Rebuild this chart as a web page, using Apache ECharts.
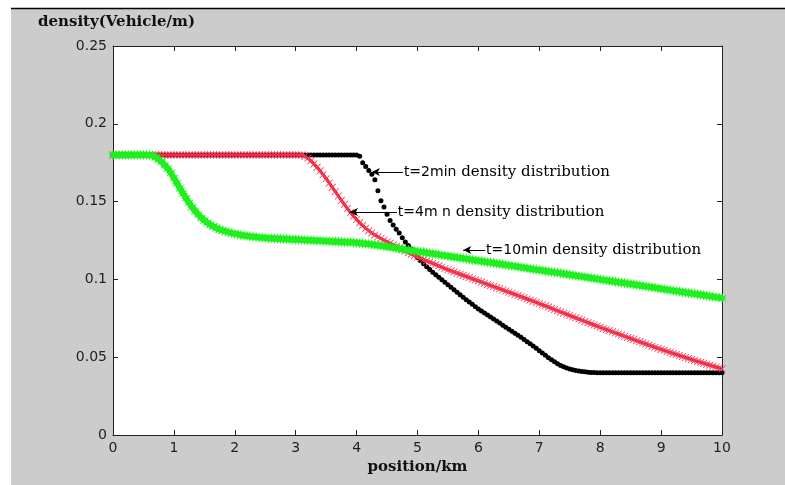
<!DOCTYPE html>
<html>
<head>
<meta charset="utf-8">
<script src="https://cdn.jsdelivr.net/npm/echarts@6/dist/echarts.min.js"></script>
<style>
html,body{margin:0;padding:0;background:#fff;}
#chart{position:absolute;left:0;top:0;width:785px;height:485px;}
</style>
</head>
<body>
<div id="chart"></div>
<script>
// sample positions (km)
var positions = [0,0.05,0.1,0.15,0.2,0.25,0.3,0.35,0.4,0.45,0.5,0.55,0.6,0.65,0.7,0.75,0.8,0.85,0.9,0.95,
1,1.05,1.1,1.15,1.2,1.25,1.3,1.35,1.4,1.45,1.5,1.55,1.6,1.65,1.7,1.75,1.8,1.85,1.9,1.95,
2,2.05,2.1,2.15,2.2,2.25,2.3,2.35,2.4,2.45,2.5,2.55,2.6,2.65,2.7,2.75,2.8,2.85,2.9,2.95,
3,3.05,3.1,3.15,3.2,3.25,3.3,3.35,3.4,3.45,3.5,3.55,3.6,3.65,3.7,3.75,3.8,3.85,3.9,3.95,
4,4.05,4.1,4.15,4.2,4.25,4.3,4.35,4.4,4.45,4.5,4.55,4.6,4.65,4.7,4.75,4.8,4.85,4.9,4.95,
5,5.05,5.1,5.15,5.2,5.25,5.3,5.35,5.4,5.45,5.5,5.55,5.6,5.65,5.7,5.75,5.8,5.85,5.9,5.95,
6,6.05,6.1,6.15,6.2,6.25,6.3,6.35,6.4,6.45,6.5,6.55,6.6,6.65,6.7,6.75,6.8,6.85,6.9,6.95,
7,7.05,7.1,7.15,7.2,7.25,7.3,7.35,7.4,7.45,7.5,7.55,7.6,7.65,7.7,7.75,7.8,7.85,7.9,7.95,
8,8.05,8.1,8.15,8.2,8.25,8.3,8.35,8.4,8.45,8.5,8.55,8.6,8.65,8.7,8.75,8.8,8.85,8.9,8.95,
9,9.05,9.1,9.15,9.2,9.25,9.3,9.35,9.4,9.45,9.5,9.55,9.6,9.65,9.7,9.75,9.8,9.85,9.9,9.95,10];

// t = 2 min
var density2min = [0.18,0.18,0.18,0.18,0.18,0.18,0.18,0.18,0.18,0.18,0.18,0.18,0.18,0.18,0.18,0.18,0.18,0.18,0.18,0.18,
0.18,0.18,0.18,0.18,0.18,0.18,0.18,0.18,0.18,0.18,0.18,0.18,0.18,0.18,0.18,0.18,0.18,0.18,0.18,0.18,
0.18,0.18,0.18,0.18,0.18,0.18,0.18,0.18,0.18,0.18,0.18,0.18,0.18,0.18,0.18,0.18,0.18,0.18,0.18,0.18,
0.18,0.18,0.18,0.18,0.18,0.18,0.18,0.18,0.18,0.18,0.18,0.18,0.18,0.18,0.18,0.18,0.18,0.18,0.18,0.18,
0.18,0.1792,0.1750,0.1725,0.1700,0.1675,0.1640,0.1570,0.1505,0.1465,0.1418,0.1378,0.1350,0.1322,0.1298,0.1268,0.1240,0.1218,0.1195,0.1168,
0.1140,0.1120,0.1100,0.1081,0.1063,0.1046,0.1030,0.1014,0.0998,0.0982,0.0966,0.0950,0.0934,0.0918,0.0902,0.0886,0.0870,0.0855,0.0840,0.0825,
0.0810,0.0797,0.0784,0.0771,0.0758,0.0745,0.0732,0.0719,0.0706,0.0693,0.0680,0.0667,0.0654,0.0641,0.0628,0.0614,0.0600,0.0586,0.0572,0.0557,
0.0542,0.0527,0.0512,0.0497,0.0483,0.0470,0.0458,0.0447,0.0438,0.0430,0.0424,0.0419,0.0415,0.0411,0.0408,0.0406,0.0404,0.0402,0.0401,0.0400,
0.04,0.04,0.04,0.04,0.04,0.04,0.04,0.04,0.04,0.04,0.04,0.04,0.04,0.04,0.04,0.04,0.04,0.04,0.04,0.04,
0.04,0.04,0.04,0.04,0.04,0.04,0.04,0.04,0.04,0.04,0.04,0.04,0.04,0.04,0.04,0.04,0.04,0.04,0.04,0.04,0.04];

// t = 4 min
var density4min = [0.18,0.18,0.18,0.18,0.18,0.18,0.18,0.18,0.18,0.18,0.18,0.18,0.18,0.18,0.18,0.18,0.18,0.18,0.18,0.18,
0.18,0.18,0.18,0.18,0.18,0.18,0.18,0.18,0.18,0.18,0.18,0.18,0.18,0.18,0.18,0.18,0.18,0.18,0.18,0.18,
0.18,0.18,0.18,0.18,0.18,0.18,0.18,0.18,0.18,0.18,0.18,0.18,0.18,0.18,0.18,0.18,0.18,0.18,0.18,0.18,
0.18,0.18,0.18,0.1792,0.1780,0.1762,0.1742,0.1720,0.1698,0.1673,0.1647,0.1620,0.1592,0.1564,0.1536,0.1508,0.1481,0.1455,0.1430,0.1407,
0.1385,0.1365,0.1346,0.1329,0.1313,0.1299,0.1286,0.1274,0.1263,0.1252,0.1242,0.1232,0.1222,0.1212,0.1202,0.1192,0.1182,0.1172,0.1162,0.1153,
0.1144,0.1136,0.1128,0.1119,0.1111,0.1103,0.1095,0.1087,0.1078,0.1070,0.1062,0.1055,0.1048,0.1040,0.1033,0.1026,0.1019,0.1012,0.1004,0.0997,
0.0990,0.0983,0.0976,0.0968,0.0961,0.0954,0.0947,0.0940,0.0932,0.0925,0.0918,0.0911,0.0903,0.0896,0.0889,0.0882,0.0874,0.0867,0.0860,0.0852,
0.0845,0.0837,0.0830,0.0822,0.0814,0.0806,0.0799,0.0791,0.0783,0.0776,0.0768,0.0760,0.0753,0.0745,0.0738,0.0730,0.0722,0.0715,0.0707,0.0700,
0.0692,0.0685,0.0678,0.0671,0.0663,0.0656,0.0649,0.0642,0.0634,0.0627,0.0620,0.0613,0.0606,0.0599,0.0592,0.0585,0.0578,0.0571,0.0564,0.0557,
0.0550,0.0544,0.0537,0.0531,0.0524,0.0518,0.0511,0.0505,0.0498,0.0492,0.0485,0.0479,0.0473,0.0467,0.0461,0.0455,0.0449,0.0443,0.0437,0.0431,0.0425];

// t = 10 min
var density10min = [0.18,0.18,0.18,0.18,0.18,0.18,0.18,0.18,0.18,0.18,0.18,0.18,0.18,0.1795,0.1785,0.1772,0.1755,0.1735,0.1712,0.1684,
0.1652,0.1618,0.1585,0.1553,0.1522,0.1492,0.1464,0.1439,0.1416,0.1396,0.1379,0.1364,0.1351,0.1340,0.1330,0.1322,0.1314,0.1308,0.1302,0.1297,
0.1293,0.1289,0.1285,0.1282,0.1279,0.1276,0.1274,0.1272,0.1270,0.1268,0.1267,0.1265,0.1264,0.1263,0.1262,0.1261,0.1260,0.1259,0.1258,0.1257,
0.1256,0.1255,0.1254,0.1253,0.1252,0.1251,0.1250,0.1249,0.1248,0.1247,0.1246,0.1245,0.1244,0.1243,0.1242,0.1241,0.1240,0.1239,0.1238,0.1237,
0.1235,0.1233,0.1231,0.1229,0.1227,0.1225,0.1222,0.1219,0.1216,0.1213,0.1210,0.1207,0.1204,0.1201,0.1198,0.1195,0.1192,0.1189,0.1186,0.1183,
0.1180,0.1177,0.1174,0.1171,0.1168,0.1165,0.1162,0.1159,0.1156,0.1153,0.1150,0.1147,0.1144,0.1141,0.1138,0.1135,0.1132,0.1129,0.1126,0.1123,
0.1120,0.1117,0.1114,0.1111,0.1108,0.1105,0.1102,0.1099,0.1096,0.1093,0.1090,0.1087,0.1084,0.1081,0.1078,0.1075,0.1072,0.1069,0.1066,0.1063,
0.1060,0.1057,0.1054,0.1051,0.1048,0.1045,0.1042,0.1039,0.1036,0.1033,0.1030,0.1027,0.1024,0.1021,0.1018,0.1015,0.1012,0.1009,0.1006,0.1003,
0.1000,0.0997,0.0994,0.0991,0.0988,0.0985,0.0982,0.0979,0.0976,0.0973,0.0970,0.0967,0.0964,0.0961,0.0958,0.0955,0.0952,0.0949,0.0946,0.0943,
0.0940,0.0937,0.0934,0.0931,0.0928,0.0925,0.0922,0.0919,0.0916,0.0913,0.0910,0.0907,0.0904,0.0901,0.0898,0.0895,0.0892,0.0889,0.0886,0.0883,0.0880];

// annotations
var annoTipX   = [4.25, 3.89, 5.75];
var annoTailX  = [4.76, 4.66, 6.11];
var annoY      = [0.169, 0.1433, 0.1189];
var annoPrefix = ['t=2min', 't=4m n', 't=10min'];
var annoSuffix = 'density distribution';

var xTicks = {min: 0, max: 10, interval: 1};
var yTicks = {min: 0, max: 0.25, interval: 0.05};

function pairs(vals) { return positions.map(function (x, i) { return [x, vals[i]]; }); }

var annoLines = annoTipX.map(function (tx, i) {
  return [
    {coord: [tx, annoY[i]],
     label: {show: true, position: 'end', distance: 1,
             formatter: '{a|' + annoPrefix[i] + '}{b| ' + annoSuffix + '}'}},
    {coord: [annoTailX[i], annoY[i]]}
  ];
});

var X_PATH = 'path://M0,0.8L0.8,0L5,4.2L9.2,0L10,0.8L5.8,5L10,9.2L9.2,10L5,5.8L0.8,10L0,9.2L4.2,5Z';
var STAR_PATH = 'path://M5,0L6,3.5L9.3,1.5L7.3,4.5L10,5L7.3,5.5L9.3,8.5L6,6.5L5,10L4,6.5L0.7,8.5L2.7,5.5L0,5L2.7,4.5L0.7,1.5L4,3.5Z';

var axisColor = '#222';
var labelFont = {color: '#222', fontFamily: 'DejaVu Sans', fontSize: 14};

var chart = echarts.init(document.getElementById('chart'), null, {renderer: 'canvas'});
chart.setOption({
  animation: false,
  backgroundColor: '#cccccc',
  grid: {left: 113, right: 63, top: 46, bottom: 50, show: true, backgroundColor: '#ffffff', borderWidth: 0},
  graphic: [
    {type: 'rect', shape: {x: 0, y: 0, width: 785, height: 8}, style: {fill: '#ffffff'}, silent: true},
    {type: 'rect', shape: {x: 0, y: 0, width: 11, height: 485}, style: {fill: '#ffffff'}, silent: true},
    {type: 'line', shape: {x1: 11, y1: 8.5, x2: 785, y2: 8.5}, style: {stroke: '#000', lineWidth: 1.5}, silent: true},
    {type: 'text', left: 38, top: 15, silent: true,
     style: {text: 'density(Vehicle/m)', font: 'bold 15px "DejaVu Serif"', fill: '#111'}}
  ],
  xAxis: [
    {type: 'value', min: xTicks.min, max: xTicks.max, interval: xTicks.interval, position: 'bottom',
     axisLine: {show: true, onZero: false, lineStyle: {color: axisColor, width: 1}},
     axisTick: {show: true, inside: true, length: 5, lineStyle: {color: axisColor}},
     axisLabel: Object.assign({margin: 6}, labelFont),
     splitLine: {show: false},
     name: 'position/km', nameLocation: 'middle', nameGap: 22,
     nameTextStyle: {fontFamily: 'DejaVu Serif', fontWeight: 'bold', fontSize: 15, color: '#111'}},
    {type: 'value', min: xTicks.min, max: xTicks.max, interval: xTicks.interval, position: 'top',
     axisLine: {show: true, onZero: false, lineStyle: {color: axisColor, width: 1}},
     axisTick: {show: true, inside: true, length: 5, lineStyle: {color: axisColor}},
     axisLabel: {show: false}, splitLine: {show: false}}
  ],
  yAxis: [
    {type: 'value', min: yTicks.min, max: yTicks.max, interval: yTicks.interval, position: 'left',
     axisLine: {show: true, onZero: false, lineStyle: {color: axisColor, width: 1}},
     axisTick: {show: true, inside: true, length: 5, lineStyle: {color: axisColor}},
     axisLabel: Object.assign({margin: 6}, labelFont),
     splitLine: {show: false}},
    {type: 'value', min: yTicks.min, max: yTicks.max, interval: yTicks.interval, position: 'right',
     axisLine: {show: true, onZero: false, lineStyle: {color: axisColor, width: 1}},
     axisTick: {show: true, inside: true, length: 5, lineStyle: {color: axisColor}},
     axisLabel: {show: false}, splitLine: {show: false}}
  ],
  series: [
    {name: 't=2min', type: 'line', silent: true, data: pairs(density2min),
     symbol: 'circle', symbolSize: 5, showSymbol: true,
     lineStyle: {width: 0, opacity: 0}, itemStyle: {color: '#000', borderWidth: 0}, z: 2},
    {name: 't=4min', type: 'line', silent: true, data: pairs(density4min),
     symbol: X_PATH, symbolSize: 7.5, showSymbol: true,
     lineStyle: {color: '#ff0000', width: 3}, itemStyle: {color: '#ee4466', borderWidth: 0}, z: 3},
    {name: 't=10min', type: 'line', silent: true, data: pairs(density10min),
     symbol: STAR_PATH, symbolSize: 11, showSymbol: true,
     lineStyle: {color: '#00ff00', width: 6}, itemStyle: {color: '#22ee22', borderWidth: 0}, z: 4},
    {name: 'annotations', type: 'line', silent: true, data: [], z: 6,
     markLine: {silent: true, symbol: ['arrow', 'none'], symbolSize: [6, 8], precision: 4,
       lineStyle: {color: '#000', width: 1, type: 'solid'},
       label: {show: true, position: 'end', distance: 1, color: '#000',
         rich: {a: {fontFamily: 'DejaVu Sans', fontSize: 14, color: '#000'},
                b: {fontFamily: 'DejaVu Serif', fontSize: 15, color: '#000'}}},
       emphasis: {disabled: true},
       data: annoLines}}
  ]
});
</script>
</body>
</html>
